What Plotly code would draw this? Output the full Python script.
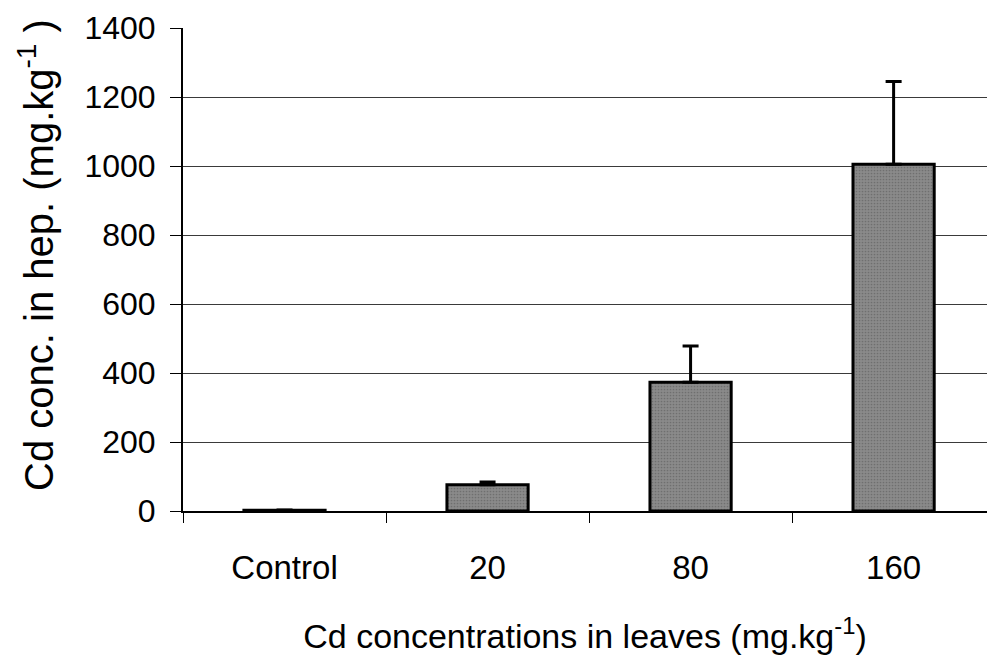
import plotly.graph_objects as go

# Cd concentration in hepatopancreas by leaf Cd treatment
categories = ["Control", "20", "80", "160"]
means = [2, 76, 373, 1005]
errors = [1, 8, 105, 240]
y_ticks = [0, 200, 400, 600, 800, 1000, 1200, 1400]

font_family = "Liberation Sans, Arial, sans-serif"

fig = go.Figure(
    go.Bar(
        x=categories,
        y=means,
        width=0.40,
        marker=dict(
            color="#858585",
            line=dict(color="black", width=3),
            pattern=dict(shape=".", fgcolor="#6f6f6f", bgcolor="#8a8a8a",
                         size=3, solidity=0.25, fillmode="replace"),
        ),
        error_y=dict(
            type="data",
            array=errors,
            arrayminus=[0] * len(errors),
            symmetric=False,
            color="black",
            thickness=3,
            width=8,
        ),
    )
)

fig.update_layout(
    width=987,
    height=664,
    margin=dict(l=183, r=0, t=28, b=153),
    paper_bgcolor="white",
    plot_bgcolor="white",
    showlegend=False,
    font=dict(family=font_family, size=32, color="black"),
    xaxis=dict(
        type="category",
        range=[-0.5, 3.46],
        tickson="boundaries",
        ticks="outside",
        ticklen=10,
        tickwidth=1,
        tickcolor="black",
        showline=True,
        linecolor="black",
        linewidth=2,
        showgrid=False,
        tickfont=dict(size=33),
        ticklabelstandoff=26,
        title=dict(text="Cd concentrations in leaves (mg.kg<sup>-1</sup>)",
                   font=dict(size=34), standoff=40),
    ),
    yaxis=dict(
        range=[0, 1400],
        tickvals=y_ticks,
        ticks="outside",
        ticklen=11,
        tickwidth=1,
        tickcolor="black",
        showline=True,
        linecolor="black",
        linewidth=2,
        showgrid=True,
        gridcolor="#3a3a3a",
        gridwidth=1,
        zeroline=False,
        tickfont=dict(size=32),
        ticklabelstandoff=8,
    ),
    annotations=[
        dict(
            text="Cd conc. in hep. (mg.kg<sup>-1</sup> )",
            textangle=-90,
            xref="paper", yref="paper",
            x=-0.183, y=0.53,
            xanchor="center", yanchor="middle",
            showarrow=False,
            font=dict(size=40),
        )
    ],
)

fig.write_html("out.html")
